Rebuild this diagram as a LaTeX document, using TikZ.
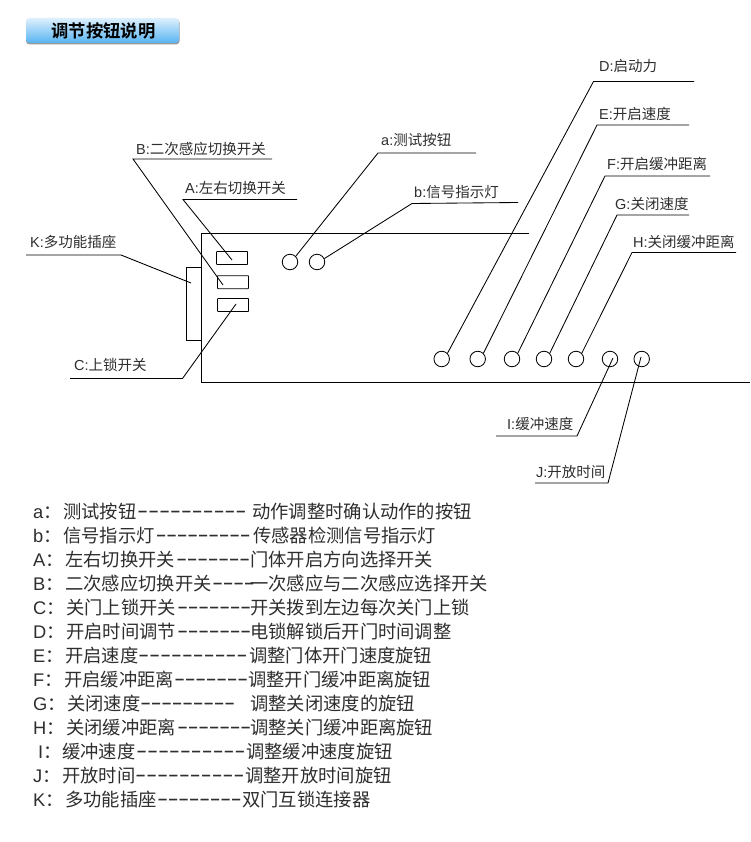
\documentclass[tikz,border=0pt]{standalone}
\usepackage{fontspec}
\setmainfont{Liberation Sans}
\newfontfamily\cjk[BoldFont={Noto Sans CJK SC Bold}]{Noto Sans CJK SC}
\newfontfamily\dashfont[LetterSpace=8]{Liberation Sans}
\newfontfamily\dashlong[LetterSpace=10.5]{Liberation Sans}
\newcommand{\tlab}[2]{#1{\cjk #2}}
\definecolor{ink}{HTML}{2E2E2E}
\tikzset{
  conn/.style={draw=black,line width=0.85pt},
  lbl/.style={inner sep=0pt,anchor=base west,text=ink,font=\fontsize{14.5}{16}\selectfont},
  leg/.style={inner sep=0pt,anchor=base west,text=ink,font=\fontsize{18.3}{20}\selectfont},
  dsh/.style={inner sep=0pt,anchor=base west,yshift=2pt,text=ink,font=\dashfont\bfseries\fontsize{16.5}{20}\selectfont},
  knob/.style={circle,draw=black,line width=0.85pt,minimum size=15.5pt,inner sep=0pt},
  sw/.style={rectangle,draw=black,line width=0.85pt,minimum width=31pt,minimum height=13pt,inner sep=0pt,rounded corners=0.6pt},
}
\begin{document}
\begin{tikzpicture}[x=1pt,y=-1pt]
\useasboundingbox (0,0) rectangle (750,842);
% banner
\fill[black!40,rounded corners=3.5pt] (26,19) rectangle (179.5,44.5);
\node[rectangle,rounded corners=3.5pt,
  top color={rgb,255:red,222;green,240;blue,253},bottom color={rgb,255:red,88;green,180;blue,242},
  minimum width=153pt,minimum height=25pt,inner sep=0pt] (banner) at (102.5,30.5) {};
\node[inner sep=0pt,text=black,font=\fontsize{17.3}{20}\selectfont\cjk\bfseries] (bannertext) at (103.5,30.5) {调节按钮说明};
% panel
\coordinate (ptr) at (529,233.5);
\coordinate (ptl) at (201.5,233.5);
\coordinate (pbl) at (201.5,382);
\coordinate (pbr) at (750,382);
\draw[conn] (ptr) -- (ptl) -- (pbl) -- (pbr);
% socket
\coordinate (s1) at (201.5,267);
\coordinate (s2) at (186,267);
\coordinate (s3) at (186,340.5);
\coordinate (s4) at (201.5,340.5);
\draw[conn] (s1) -- (s2) -- (s3) -- (s4);
% switches
\node[sw] (swA) at (232,258) {};
\node[sw] (swB) at (233,282.2) {};
\node[sw] (swC) at (233,305) {};
% knobs
\node[knob] (ka) at (290,262) {};
\node[knob] (kb) at (317,262) {};
\node[knob] (kD) at (441.7,359) {};
\node[knob] (kE) at (477.7,359) {};
\node[knob] (kF) at (512,359) {};
\node[knob] (kG) at (544,359) {};
\node[knob] (kH) at (576,359) {};
\node[knob] (kI) at (610,359) {};
\node[knob] (kJ) at (641.7,359) {};
% labels
\node[lbl] (lB) at (136,155) {\tlab{B:}{二次感应切换开关}};
\node[lbl] (lA) at (185,194) {\tlab{A:}{左右切换开关}};
\node[lbl] (lK) at (30,247) {\tlab{K:}{多功能插座}};
\node[lbl] (lC) at (74,370) {\tlab{C:}{上锁开关}};
\node[lbl] (la) at (381,146) {\tlab{a:}{测试按钮}};
\node[lbl] (lb) at (414,198) {\tlab{b:}{信号指示灯}};
\node[lbl] (lD) at (599,72) {\tlab{D:}{启动力}};
\node[lbl] (lE) at (599,120) {\tlab{E:}{开启速度}};
\node[lbl] (lF) at (607,170) {\tlab{F:}{开启缓冲距离}};
\node[lbl] (lG) at (615,210) {\tlab{G:}{关闭速度}};
\node[lbl] (lH) at (633,247) {\tlab{H:}{关闭缓冲距离}};
\node[lbl] (lI) at (507,429) {\tlab{I:}{缓冲速度}};
\node[lbl] (lJ) at (536,477) {\tlab{J:}{开放时间}};
% leader elbows and free ends
\coordinate (eB) at (133,159); \coordinate (fB) at (272,159); \coordinate (tB) at (223,285);
\coordinate (eA) at (183,199.5); \coordinate (fA) at (297,199.5); \coordinate (tA) at (232,260);
\coordinate (eK) at (121,255); \coordinate (fK) at (26,255); \coordinate (tK) at (191,283);
\coordinate (eC) at (182.5,378.5); \coordinate (fC) at (70,378.5); \coordinate (tC) at (236,304);
\coordinate (ea) at (378,153); \coordinate (fa) at (476,153);
\coordinate (eb) at (412,203.5); \coordinate (fb) at (518,202.5);
\coordinate (eD) at (593.5,81.5); \coordinate (fD) at (694,81.5);
\coordinate (eE) at (597,125); \coordinate (fE) at (689,125);
\coordinate (eF) at (605,176); \coordinate (fF) at (710,176);
\coordinate (eG) at (617,215); \coordinate (fG) at (689,215);
\coordinate (eH) at (632,252.5); \coordinate (fH) at (736,252.5);
\coordinate (eI) at (577,436); \coordinate (fI) at (496,436); \coordinate (tI) at (613,358);
\coordinate (eJ) at (608,483); \coordinate (fJ) at (535,483); \coordinate (tJ) at (641,357);
% leaders
\draw[conn] (fB) -- (eB) -- (tB);
\draw[conn] (fA) -- (eA) -- (tA);
\draw[conn] (fK) -- (eK) -- (tK);
\draw[conn] (fC) -- (eC) -- (tC);
\draw[conn] (fa) -- (ea) -- (ka.north east);
\draw[conn] (fb) -- (eb) -- (kb.25);
\draw[conn] (fD) -- (eD) -- (kD.north east);
\draw[conn] (fE) -- (eE) -- (kE.north east);
\draw[conn] (fF) -- (eF) -- (kF.north east);
\draw[conn] (fG) -- (eG) -- (kG.north east);
\draw[conn] (fH) -- (eH) -- (kH.north east);
\draw[conn] (fI) -- (eI) -- (tI);
\draw[conn] (fJ) -- (eJ) -- (tJ);
% legend
\newcommand{\legrow}[9]{%
  \node[leg] (k#1) at (#2,#3) {#4{\cjk ：}};
  \node[leg] (n#1) at (#5,#3) {{\cjk #6}};
  \node[dsh] (d#1) at (#7,#3) {#8};
  \node[leg] (t#1) at (#9,#3)}
\legrow{1}{33}{518}{a}{63}{测试按钮}{138}{\dashlong ––––––––––}{252} {{\cjk 动作调整时确认动作的按钮}};
\legrow{2}{33}{542}{b}{63}{信号指示灯}{156.5}{–––––––––}{253} {{\cjk 传感器检测信号指示灯}};
\legrow{3}{33}{566}{A}{65}{左右切换开关}{177}{–––––––}{250} {{\cjk 门体开启方向选择开关}};
\legrow{4}{33}{590}{B}{65}{二次感应切换开关}{213}{––––}{250} {{\cjk 一次感应与二次感应选择开关}};
\legrow{5}{33}{614}{C}{66}{关门上锁开关}{178}{–––––––}{250} {{\cjk 开关拨到左边每次关门上锁}};
\legrow{6}{33}{638}{D}{66}{开启时间调节}{178}{–––––––}{250} {{\cjk 电锁解锁后开门时间调整}};
\legrow{7}{33}{662}{E}{65}{开启速度}{139}{\dashlong ––––––––––}{249} {{\cjk 调整门体开门速度旋钮}};
\legrow{8}{33}{686}{F}{64}{开启缓冲距离}{175}{–––––––}{248} {{\cjk 调整开门缓冲距离旋钮}};
\legrow{9}{33}{710}{G}{67}{关闭速度}{141}{–––––––––}{250} {{\cjk 调整关闭速度的旋钮}};
\legrow{10}{33}{734}{H}{66}{关闭缓冲距离}{178}{–––––––}{250} {{\cjk 调整关门缓冲距离旋钮}};
\legrow{11}{38}{758}{I}{62}{缓冲速度}{137}{\dashlong ––––––––––}{246} {{\cjk 调整缓冲速度旋钮}};
\legrow{12}{33}{782}{J}{62}{开放时间}{136}{\dashlong ––––––––––}{245} {{\cjk 调整开放时间旋钮}};
\legrow{13}{33}{806}{K}{65}{多功能插座}{158}{––––––––}{242} {{\cjk 双门互锁连接器}};
\end{tikzpicture}
\end{document}
